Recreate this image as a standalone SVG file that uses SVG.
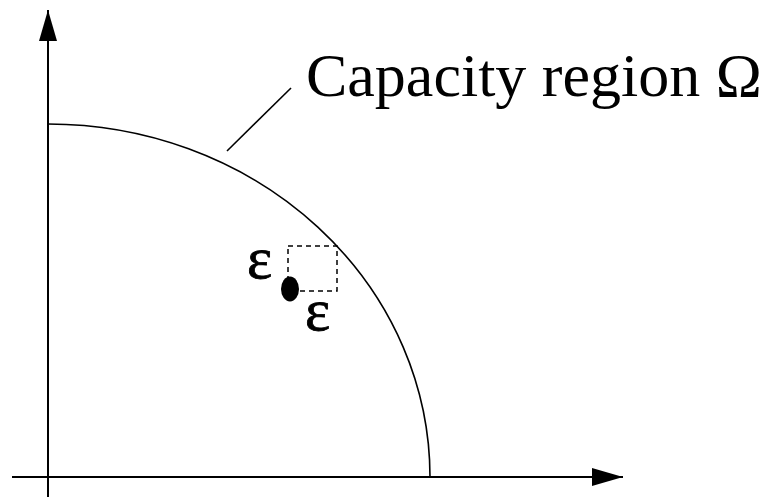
<svg xmlns="http://www.w3.org/2000/svg" width="770" height="497" viewBox="0 0 770 497">
<style>
.axis{stroke:#000;stroke-width:2;fill:none}
.curve{stroke:#000;stroke-width:1.6;fill:none}
.lbl{font-family:"Liberation Serif","Times New Roman",serif;fill:#000}
</style>
<defs>
<marker id="ah" markerUnits="userSpaceOnUse" markerWidth="32" markerHeight="20" refX="31" refY="9" orient="auto">
<path d="M0,0 L31,9 L0,18 Z" fill="#000"/>
</marker>
</defs>
<rect width="770" height="497" fill="#fff"/>
<g id="connectors">
<line class="axis" x1="48" y1="497" x2="48" y2="10" marker-end="url(#ah)"/>
<line class="axis" x1="12" y1="477" x2="623" y2="477" marker-end="url(#ah)"/>
<line class="curve" x1="227" y1="151" x2="291" y2="88"/>
</g>
<g id="region">
<path class="curve" d="M48,124 A382,353 0 0 1 430,477"/>
</g>
<g id="label">
<text class="lbl" x="306" y="96" font-size="62">Capacity region Ω</text>
</g>
<g id="point">
<rect x="288" y="246" width="49" height="45" fill="none" stroke="#000" stroke-width="1.5" stroke-dasharray="5,4"/>
<ellipse cx="290" cy="289" rx="9" ry="12.5" fill="#000"/>
<text class="lbl" x="247" y="278" font-size="60" stroke="#000" stroke-width="0.8">ε</text>
<text class="lbl" x="305" y="330" font-size="60" stroke="#000" stroke-width="0.8">ε</text>
</g>
</svg>
